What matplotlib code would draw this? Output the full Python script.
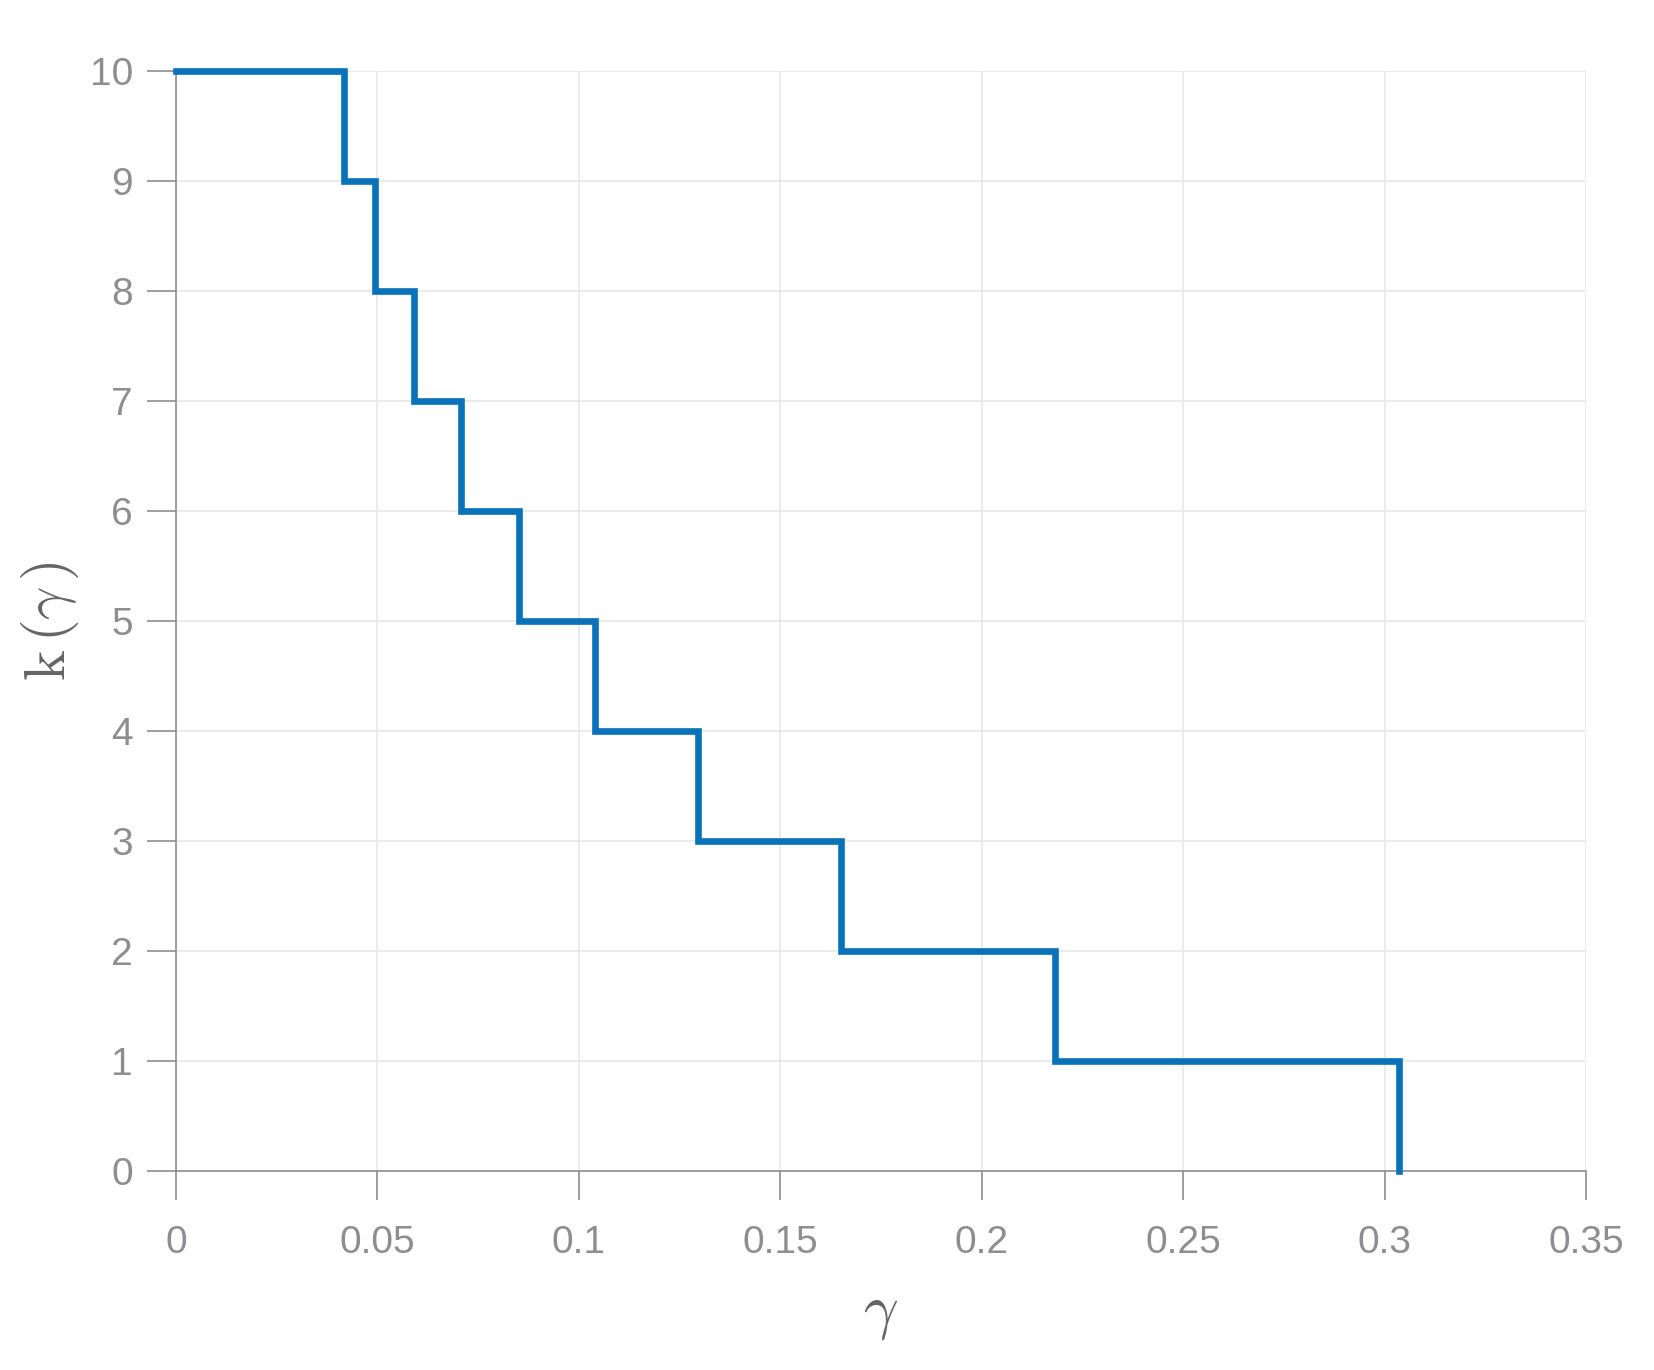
import numpy as np
import matplotlib.pyplot as plt

# gamma values where k(gamma) drops by one
gamma_breaks = [0.0, 0.0417, 0.0495, 0.0590, 0.0707, 0.0852,
                0.1040, 0.1295, 0.1651, 0.2183, 0.3035]
k_values = [10, 9, 8, 7, 6, 5, 4, 3, 2, 1, 0]

x_ticks = [0, 0.05, 0.1, 0.15, 0.2, 0.25, 0.3, 0.35]
x_tick_labels = ["0", "0.05", "0.1", "0.15", "0.2", "0.25", "0.3", "0.35"]
y_ticks = list(range(0, 11))

line_color = "#0a72b9"
tick_color = "#8e8e92"
label_color = "#656565"
grid_color = "#e8e8e8"

plt.rcParams["mathtext.fontset"] = "cm"

fig = plt.figure(figsize=(1654 / 200, 1370 / 200), dpi=200)
ax = fig.add_axes([0.1064, 0.1453, 0.8525, 0.8029])

ax.step(gamma_breaks, k_values, where="post", color=line_color,
        linewidth=2.4, clip_on=False, zorder=3, solid_joinstyle="miter")

ax.set_xlim(0, 0.35)
ax.set_ylim(0, 10)
ax.set_xticks(x_ticks)
ax.set_xticklabels(x_tick_labels)
ax.set_yticks(y_ticks)

ax.grid(True, color=grid_color, linewidth=0.6, zorder=0)
ax.set_axisbelow(True)

for side in ["top", "right"]:
    ax.spines[side].set_visible(False)
for side in ["left", "bottom"]:
    ax.spines[side].set_color(tick_color)
    ax.spines[side].set_linewidth(0.6)

ax.tick_params(axis="both", direction="out", length=10.5, width=0.6,
               color=tick_color, labelcolor=tick_color, labelsize=14)
ax.tick_params(axis="x", pad=9)
ax.tick_params(axis="y", pad=5)
for lbl in ax.get_xticklabels() + ax.get_yticklabels():
    lbl.set_family("Liberation Sans")

ax.set_xlabel(r"$\gamma$", fontsize=22, color=label_color, labelpad=8)
ax.set_ylabel(r"$\mathrm{k}\,(\gamma\,)$", fontsize=21, color=label_color,
              labelpad=3)

fig.savefig("out.png", dpi=200, facecolor="white")
